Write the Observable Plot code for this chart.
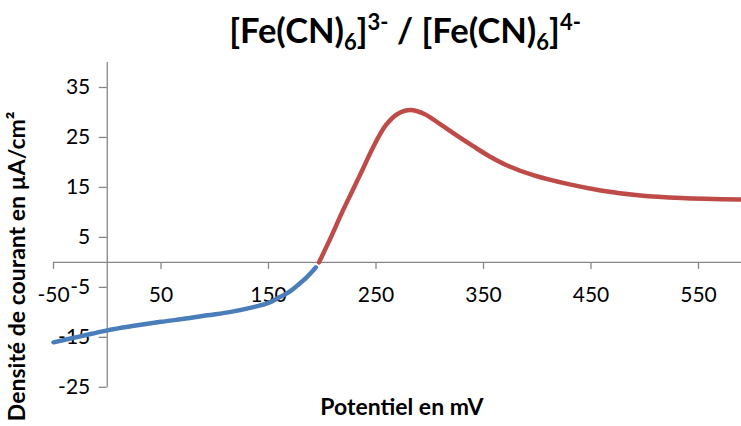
<!DOCTYPE html>
<html>
<head>
<meta charset="utf-8">
<script src="https://cdn.jsdelivr.net/npm/d3@7"></script>
<script src="https://cdn.jsdelivr.net/npm/@observablehq/plot@0.6"></script>
<style>
  html, body { margin: 0; padding: 0; background: #fff; }
  #wrap { width: 741px; height: 426px; position: relative; overflow: hidden; font-family: Lato, "Open Sans", sans-serif; }
  #title { height: 60px; width: 741px; position: relative; }
  #title span.t { position: absolute; left: 405px; top: 0px; transform: translateX(-50%); white-space: nowrap;
    font-weight: bold; font-size: 34.5px; line-height: 44px; color: #000; font-family: Lato, sans-serif; }
  #title sub, #title sup { font-size: 22px; }
  svg { display: block; }
</style>
</head>
<body>
<div id="wrap">
  <div id="title"><span class="t">[Fe(CN)<sub>6</sub>]<sup>3-</sup> / [Fe(CN)<sub>6</sub>]<sup>4-</sup></span></div>
  <div id="chart"></div>
</div>
<script>
// Potentiel (mV) and current density (µA/cm²)
const blueX = [-50, -25, 0, 25, 50, 75, 93, 115, 137, 150, 161, 170, 177, 185, 192, 194];
const blueY = [-16.0, -14.8, -13.6, -12.7, -11.9, -11.2, -10.6, -9.9, -8.9, -8.1, -6.9, -5.8, -4.6, -3.1, -1.5, -1.0];
const redX = [197, 208, 218, 228, 238, 247, 259, 270, 282, 295, 310, 325, 340, 355, 372, 397, 428, 459, 496, 534, 589];
const redY = [0.0, 5.0, 9.8, 14.3, 18.8, 22.9, 27.4, 29.7, 30.5, 29.7, 27.6, 25.4, 23.3, 21.3, 19.4, 17.4, 15.7, 14.4, 13.4, 12.9, 12.6];
const xTicks = [-50, 50, 150, 250, 350, 450, 550];
const yTicks = [-25, -15, -5, 5, 15, 25, 35];
const xDomain = [-50, 590];
const yDomain = [-25, 40];
const xLabel = "Potentiel en mV";
const yLabel = "Densité de courant en µA/cm²";

const blue = blueX.map((x, i) => ({x, y: blueY[i]}));
const red = redX.map((x, i) => ({x, y: redY[i]}));

const axisColor = "#868686";
const fontSize = 21;

const chart = Plot.plot({
  width: 741,
  height: 366,
  marginLeft: 53,
  marginRight: 0,
  marginTop: 2,
  marginBottom: 39.2,
  style: {fontFamily: "Lato, 'Open Sans', sans-serif", background: "#fff", overflow: "visible"},
  x: {domain: xDomain, axis: null},
  y: {domain: yDomain, axis: null},
  marks: [
    Plot.ruleY([0], {x1: xDomain[0], x2: xDomain[1], stroke: axisColor, strokeWidth: 1.3}),
    Plot.ruleX([0], {y1: yDomain[0], y2: yDomain[1], stroke: axisColor, strokeWidth: 1.3}),
    Plot.ruleX(xTicks, {x: d => d, y1: 0, y2: 0, insetBottom: -7, stroke: axisColor, strokeWidth: 1.3}),
    Plot.ruleY(yTicks, {y: d => d, x1: 0, x2: 0, insetLeft: -8, stroke: axisColor, strokeWidth: 1.3}),
    Plot.text(xTicks, {x: d => d, y: 0, dy: 33, text: d => String(d), fontSize, fill: "#000", lineAnchor: "middle"}),
    Plot.text(yTicks, {x: 0, y: d => d, dx: -17, text: d => String(d), fontSize, fill: "#000", textAnchor: "end", lineAnchor: "middle"}),
    Plot.line(blue, {x: "x", y: "y", stroke: "#4A7EBB", strokeWidth: 4.5, curve: "catmull-rom", strokeLinecap: "round"}),
    Plot.line(red, {x: "x", y: "y", stroke: "#BE4B48", strokeWidth: 4.5, curve: "catmull-rom", strokeLinecap: "round"}),
    Plot.text([xLabel], {x: 274, y: -29, text: d => d, fontSize: 23, fontWeight: "bold", fill: "#000", lineAnchor: "middle"}),
    Plot.text([yLabel], {x: -83.3, y: -0.8, rotate: -90, text: d => d, fontSize: 23, fontWeight: "bold", fill: "#000", lineAnchor: "middle"})
  ]
});
document.getElementById("chart").appendChild(chart);
</script>
</body>
</html>
